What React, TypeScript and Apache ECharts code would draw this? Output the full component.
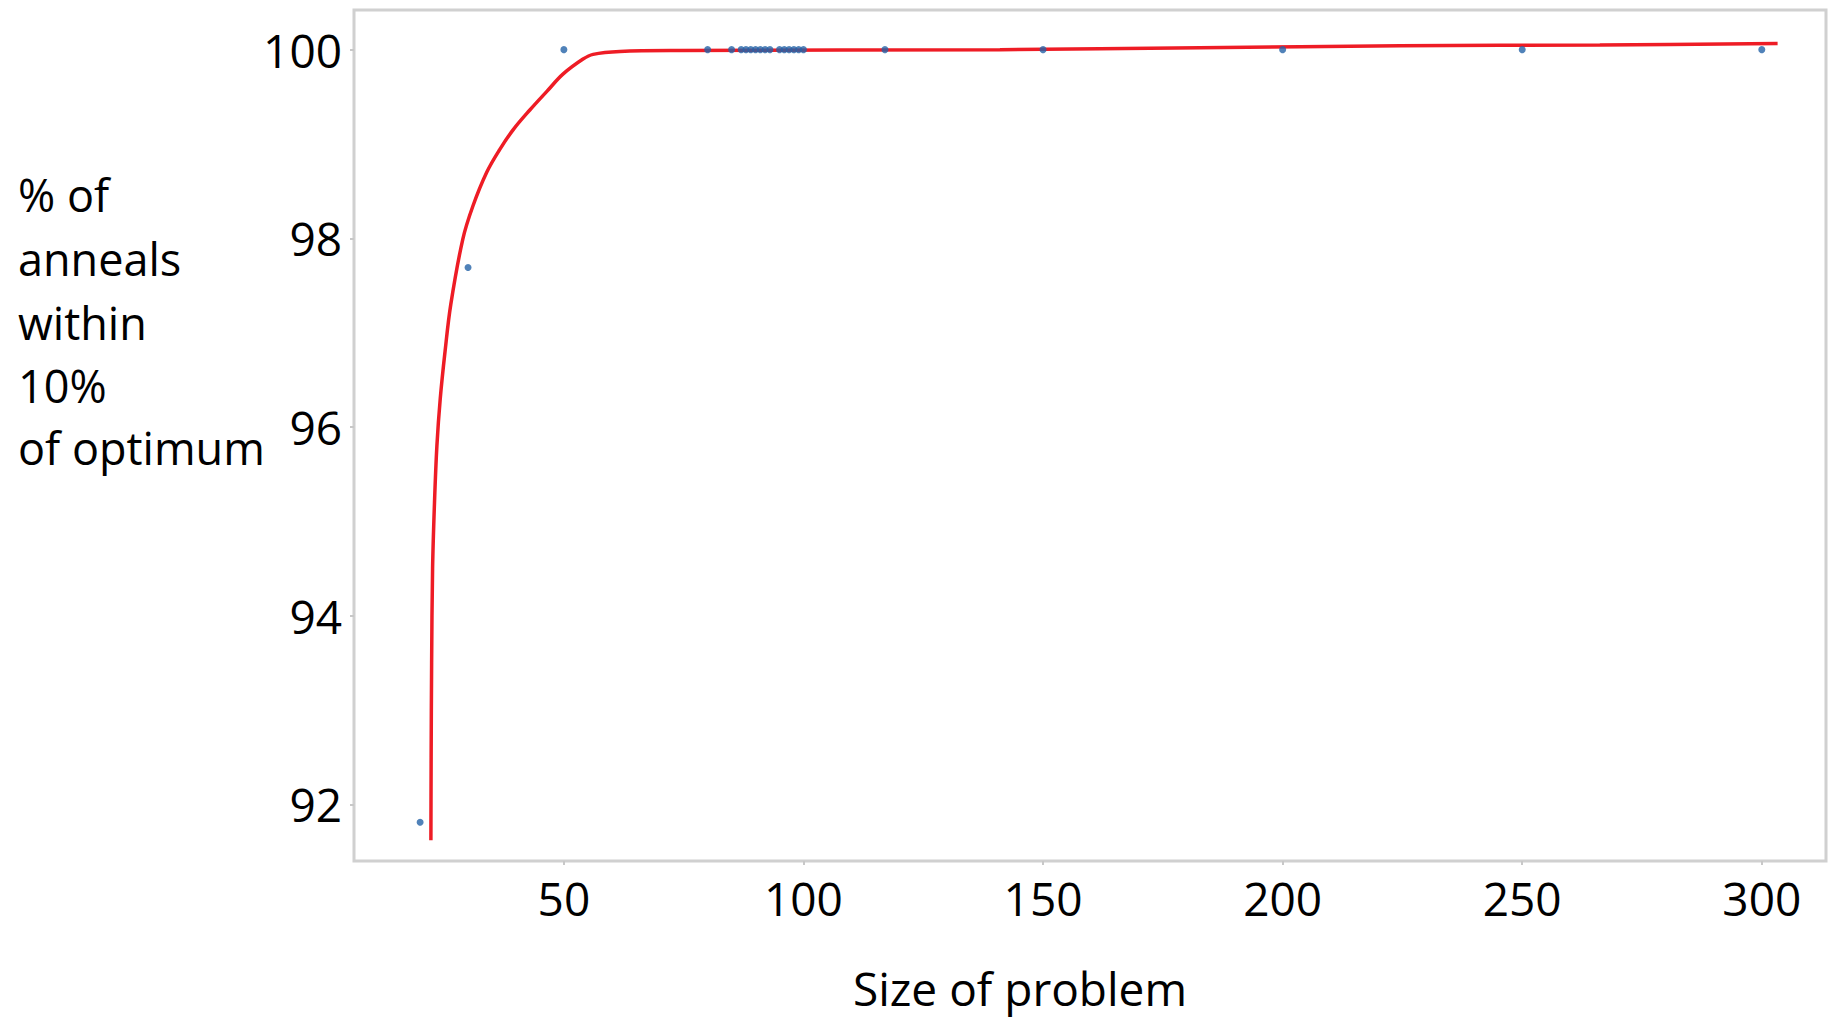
import React, { useEffect, useRef } from "react";
import * as echarts from "echarts";

const xTicks = [50, 100, 150, 200, 250, 300];
const yTicks = [92, 94, 96, 98, 100];

const sizes = [20, 30, 50, 80, 85, 87, 88, 89, 90, 91, 92, 93, 95, 96, 97, 98, 99, 100, 117, 150, 200, 250, 300];
const percents = [91.81, 97.69, 100, 100, 100, 100, 100, 100, 100, 100, 100, 100, 100, 100, 100, 100, 100, 100, 100, 100, 100, 100, 100];

const fitX = [22.25, 22.3, 22.4, 22.6, 23.0, 23.5, 24.2, 25.2, 26.4, 28.9, 31.0, 33.9, 36.6, 39.4, 42.9, 46.5, 49.8, 54.0, 56.1, 61.7, 74.2, 141, 182.7, 224.5, 266.2, 303.3];
const fitY = [91.62, 92.5, 93.5, 94.5, 95.2, 95.8, 96.3, 96.8, 97.3, 97.99, 98.34, 98.7, 98.94, 99.15, 99.36, 99.56, 99.74, 99.9, 99.95, 99.98, 99.99, 100.0, 100.02, 100.04, 100.05, 100.065];

const yTitleLines = ["% of", "anneals", "within", "10%", "of optimum"];
const xTitle = "Size of problem";

const FONT = "'Open Sans', 'DejaVu Sans', sans-serif";

export default function App() {
  const ref = useRef<HTMLDivElement>(null);
  useEffect(() => {
    if (!ref.current) return;
    const chart = echarts.init(ref.current, undefined, { renderer: "svg" });
    const lineCenters = [204, 268, 332, 395, 457];
    chart.setOption({
      animation: false,
      backgroundColor: "#ffffff",
      grid: {
        left: 354,
        top: 10,
        right: 2,
        bottom: 157,
        show: true,
        borderColor: "#d0d0d0",
        borderWidth: 3,
        backgroundColor: "transparent",
      },
      xAxis: {
        type: "value",
        min: 6.2,
        max: 313.4,
        splitLine: { show: false },
        axisLine: { show: false },
        axisTick: {
          show: true,
          length: 4,
          lineStyle: { color: "#c8c8c8", width: 2 },
          customValues: xTicks,
        },
        axisLabel: {
          customValues: xTicks,
          fontFamily: FONT,
          fontSize: 46,
          color: "#000",
          margin: 14,
        },
      },
      yAxis: {
        type: "value",
        min: 91.4,
        max: 100.42,
        splitLine: { show: false },
        axisLine: { show: false },
        axisTick: {
          show: true,
          length: 4,
          lineStyle: { color: "#c8c8c8", width: 2 },
          customValues: yTicks,
        },
        axisLabel: {
          customValues: yTicks,
          fontFamily: FONT,
          fontSize: 46,
          color: "#000",
          margin: 12,
        },
      },
      graphic: [
        ...yTitleLines.map((t, i) => ({
          type: "text",
          left: 18,
          top: lineCenters[i] - 32,
          style: {
            text: t,
            fontFamily: FONT,
            fontSize: 45,
            fill: "#000",
          },
        })),
        {
          type: "text",
          x: 1020,
          y: 988,
          style: {
            text: xTitle,
            fontFamily: FONT,
            fontSize: 46,
            lineHeight: 50,
            fill: "#000",
            textAlign: "center",
            textVerticalAlign: "middle",
          },
        },
      ],
      series: [
        {
          type: "line",
          data: fitX.map((x, i) => [x, fitY[i]]),
          smooth: 0.35,
          showSymbol: false,
          lineStyle: { color: "#ee1c25", width: 3.5 },
          z: 2,
        },
        {
          type: "scatter",
          data: sizes.map((x, i) => [x, percents[i]]),
          symbol: "circle",
          symbolSize: 7,
          itemStyle: { color: "#2463a8" },
          z: 3,
        },
      ],
    });
    return () => chart.dispose();
  }, []);
  return (
    <div
      ref={ref}
      style={{ position: "fixed", left: 0, top: 0, width: 1828, height: 1018, background: "#fff" }}
    />
  );
}
